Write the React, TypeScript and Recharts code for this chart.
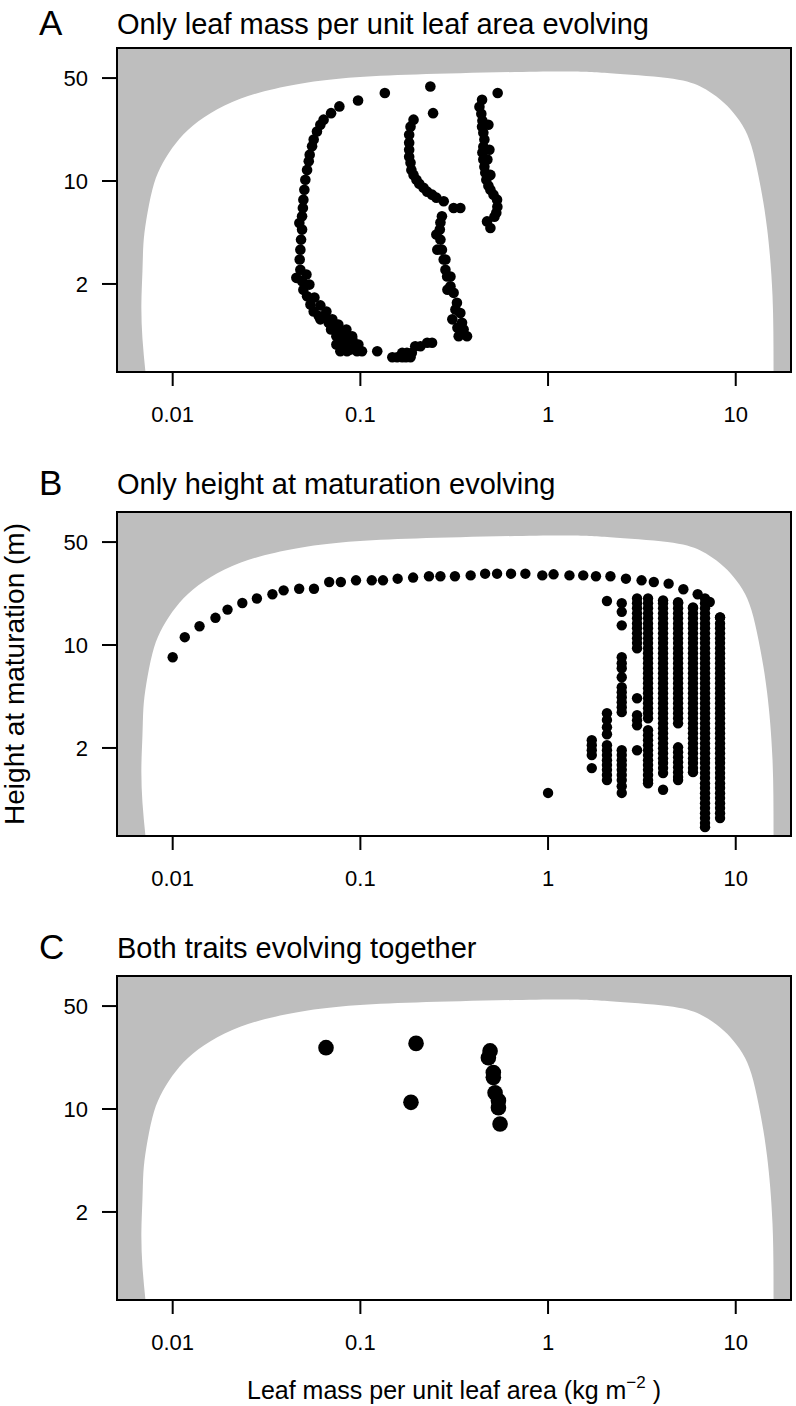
import React from "react";
import { ScatterChart, Scatter, XAxis, YAxis, CartesianGrid } from "recharts";

const FONT = '"Liberation Sans", Arial, Helvetica, sans-serif';
const GREY = "#bebebe";

const X_DOMAIN = [0.00505, 19.7];
const Y_DOMAIN = [0.505, 80];
const X_TICKS = [0.01, 0.1, 1, 10];
const Y_TICKS = [2, 10, 50];

// outline of the white (viable) region, bottom-left round to bottom-right
const regionX = [0.00716, 0.0069, 0.00681, 0.0069, 0.00698, 0.00724, 0.00779, 0.00859, 0.00996, 0.0121, 0.0159, 0.0229, 0.0352, 0.0612, 0.128, 0.341, 1.16, 2.14, 4.32, 6.48, 8.29, 9.71, 11.2, 12.4, 13.5, 14.7, 15.7, 15.9];
const regionY = [0.505, 0.851, 1.45, 2.43, 3.7, 5.47, 8.73, 12.3, 16.8, 22.3, 28.9, 36.2, 42.3, 47.9, 51.8, 54.0, 55.4, 53.9, 50, 43.8, 35.6, 29.1, 22.3, 15.6, 9.44, 4.75, 1.67, 0.505];

// panel A: only leaf mass per area evolving
const lmaLeft = [
  [0.135, 39.6], [0.0972, 35.2], [0.0773, 32.1], [0.0698, 28.9], [0.0637, 26.1], [0.0612, 24.1],
  [0.0587, 21.7], [0.0564, 19.1], [0.0553, 17.2], [0.0537, 15.1], [0.0531, 13.6], [0.052, 11.9],
  [0.0509, 10.2], [0.0503, 8.73], [0.0497, 7.47], [0.0494, 6.56], [0.0489, 5.76], [0.0473, 5.19],
  [0.0489, 4.68], [0.0483, 4.0], [0.0479, 3.42], [0.0475, 2.93], [0.0479, 2.5], [0.0516, 2.32],
  [0.0456, 2.2], [0.0489, 2.09], [0.0535, 1.98], [0.0509, 1.97], [0.0497, 1.83], [0.052, 1.65],
  [0.0569, 1.62], [0.0542, 1.45], [0.0612, 1.43], [0.0564, 1.3], [0.0659, 1.3], [0.06, 1.21],
  [0.0612, 1.15], [0.0709, 1.15], [0.0651, 1.18], [0.0678, 1.09], [0.0763, 1.06], [0.0736, 1.01],
  [0.0698, 0.981], [0.0842, 0.981], [0.0782, 0.931], [0.0745, 0.883], [0.0832, 0.883], [0.0904, 0.883],
  [0.0799, 0.839], [0.0907, 0.839], [0.0832, 0.776], [0.0745, 0.776], [0.0941, 0.776], [0.0976, 0.776],
  [0.0782, 0.699], [0.0849, 0.699], [0.0885, 0.717], [0.096, 0.699], [0.102, 0.699], [0.123, 0.699],
  [0.148, 0.636], [0.157, 0.636], [0.167, 0.636], [0.175, 0.636], [0.185, 0.636], [0.167, 0.681],
  [0.177, 0.681], [0.188, 0.681], [0.196, 0.755], [0.209, 0.755], [0.227, 0.797], [0.241, 0.797],
];
const lmaMiddle = [
  [0.236, 43.8], [0.244, 28.9], [0.192, 26.1], [0.185, 23.4], [0.182, 20.6], [0.182, 18.2],
  [0.182, 16.3], [0.182, 14.6], [0.185, 13.3], [0.187, 11.9], [0.192, 11.0], [0.199, 10.2],
  [0.206, 9.59], [0.217, 9.01], [0.227, 8.47], [0.241, 8.08], [0.254, 7.71], [0.278, 7.28],
  [0.314, 6.56], [0.341, 6.56], [0.272, 5.76], [0.267, 5.22], [0.265, 4.68], [0.254, 4.33],
  [0.267, 4.0], [0.257, 3.42], [0.272, 3.42], [0.278, 2.93], [0.284, 2.93], [0.284, 2.5],
  [0.29, 2.25], [0.302, 2.25], [0.302, 1.93], [0.291, 1.83], [0.314, 1.74], [0.327, 1.49],
  [0.321, 1.34], [0.341, 1.27], [0.309, 1.15], [0.348, 1.09], [0.329, 1.01], [0.355, 0.981],
  [0.334, 0.883], [0.37, 0.883],
];
const lmaRight = [
  [0.539, 39.6], [0.445, 35.6], [0.431, 31.9], [0.441, 28.6], [0.447, 25.7], [0.481, 24.1],
  [0.445, 23.4], [0.452, 21.3], [0.458, 19.1], [0.452, 17.1], [0.487, 16.3], [0.447, 15.6],
  [0.452, 14.0], [0.475, 14.0], [0.458, 12.5], [0.463, 11.4], [0.493, 11.0], [0.469, 10.2],
  [0.481, 9.3], [0.493, 8.73], [0.512, 8.08], [0.535, 7.47], [0.537, 6.7], [0.53, 6.1],
  [0.518, 5.73], [0.473, 5.32], [0.493, 4.8],
];

// panel B: only height evolving
const heightArc = [
  [0.01, 8.26], [0.0116, 11.3], [0.0139, 13.4], [0.0169, 15.3], [0.0196, 17.4], [0.0235, 19.3],
  [0.0281, 20.7], [0.034, 22.1], [0.039, 23.5], [0.0472, 24.1], [0.0566, 24.1], [0.0682, 26.8],
  [0.0787, 26.8], [0.0948, 27.5], [0.115, 27.5], [0.132, 27.5], [0.158, 28.2], [0.191, 28.7],
  [0.232, 29.3], [0.267, 29.3], [0.319, 29.3], [0.387, 29.7], [0.462, 30.5], [0.535, 30.5],
  [0.635, 30.5], [0.757, 30.5], [0.932, 29.7], [1.07, 30.2], [1.3, 29.7], [1.54, 29.7],
  [1.8, 29.3], [2.15, 29.3], [2.6, 28.2], [3.15, 27.5], [3.66, 26.8], [4.39, 26.1],
  [5.26, 23.9], [6.27, 22.1], [7.27, 19.6], [8.25, 15.4],
];
const heightLone = [[1, 0.99]];
const colX = [1.71, 2.06, 2.47, 2.98, 3.41, 4.1, 4.93, 5.92, 6.86, 8.25];
const colY = [
  [2.26, 2.09, 1.93, 1.79, 1.46],
  [19.9, 3.44, 3.1, 2.77, 2.48, 2.09, 1.93, 1.79, 1.65, 1.53, 1.42, 1.31, 1.21],
  [19.2, 16.8, 13.6, 8.26, 7.52, 6.95, 6.04, 5.17, 4.78, 4.42, 4.09, 3.78, 3.5, 1.93, 1.79, 1.65, 1.53, 1.42, 1.31, 1.21, 1.1, 0.99],
  [20.7, 19.2, 17.8, 16.4, 15.2, 14.0, 13.0, 12.0, 11.1, 10.3, 9.5, 4.35, 3.34, 3.08, 2.85, 1.93],
  [20.7, 19.2, 17.8, 16.4, 15.2, 14.0, 13.0, 12.0, 11.1, 10.3, 9.5, 8.79, 8.13, 7.52, 6.95, 6.43, 5.95, 5.5, 5.09, 4.71, 4.35, 4.03, 3.72, 3.44, 3.18, 2.64, 2.44, 2.26, 2.09, 1.93, 1.79, 1.65, 1.53, 1.42, 1.31, 1.21, 1.15],
  [20.1, 19.2, 17.8, 16.4, 15.2, 14.0, 13.0, 12.0, 11.1, 10.3, 9.5, 8.79, 8.13, 7.52, 6.95, 6.43, 5.95, 5.5, 5.09, 4.71, 4.35, 4.03, 3.72, 3.44, 3.18, 2.94, 2.72, 2.52, 2.33, 2.15, 1.99, 1.84, 1.7, 1.58, 1.46, 1.35, 1.04],
  [19.5, 19.2, 17.8, 16.4, 15.2, 14.0, 13.0, 12.0, 11.1, 10.3, 9.5, 8.79, 8.13, 7.52, 6.95, 6.43, 5.95, 5.5, 5.09, 4.71, 4.35, 4.03, 3.72, 3.44, 3.18, 2.94, 2.02, 1.87, 1.73, 1.6, 1.48, 1.37, 1.27, 1.21],
  [18.0, 17.8, 16.4, 15.2, 14.0, 13.0, 12.0, 11.1, 10.3, 9.5, 8.79, 8.13, 7.52, 6.95, 6.43, 5.95, 5.5, 5.09, 4.71, 4.35, 4.03, 3.72, 3.44, 3.18, 2.94, 2.72, 2.52, 2.33, 2.15, 1.99, 1.84, 1.7, 1.58, 1.46, 1.37],
  [20.7, 19.2, 17.8, 16.4, 15.2, 14.0, 13.0, 12.0, 11.1, 10.3, 9.5, 8.79, 8.13, 7.52, 6.95, 6.43, 5.95, 5.5, 5.09, 4.71, 4.35, 4.03, 3.72, 3.44, 3.18, 2.94, 2.72, 2.52, 2.33, 2.15, 1.99, 1.84, 1.7, 1.58, 1.46, 1.35, 1.25, 1.15, 1.07, 0.987, 0.913, 0.844, 0.781, 0.722, 0.668, 0.618, 0.58],
  [15.4, 14.0, 13.0, 12.0, 11.1, 10.3, 9.5, 8.79, 8.13, 7.52, 6.95, 6.43, 5.95, 5.5, 5.09, 4.71, 4.35, 4.03, 3.72, 3.44, 3.18, 2.94, 2.72, 2.52, 2.33, 2.15, 1.99, 1.84, 1.7, 1.58, 1.46, 1.35, 1.25, 1.15, 1.07, 0.987, 0.913, 0.844, 0.781, 0.722, 0.668],
];

// panel C: both traits evolving
const bothDots = [
  [0.0656, 26.1], [0.198, 27.9], [0.186, 11.1], [0.491, 24.8], [0.481, 22.3], [0.511, 17.7],
  [0.511, 16.4], [0.522, 12.9], [0.544, 11.4], [0.544, 10.2], [0.555, 7.92],
];

const toPts = (arr: number[][]) => arr.map(([x, y]) => ({ x, y }));
const region = regionX.map((x, i) => ({ x, y: regionY[i] }));

const PLOT_LEFT = 117;
const PLOT_TOP = 48;
const PLOT_W = 674;
const PLOT_H = 324;
const CHART_H = 432;

const dot = (r: number) => (p: any) => <circle cx={p.cx} cy={p.cy} r={r} fill="#000" />;

function Panel({ top, data, r }: { top: number; data: { x: number; y: number }[]; r: number }) {
  return (
    <div style={{ position: "absolute", left: 0, top, width: 796, height: CHART_H }}>
      <ScatterChart
        width={796}
        height={CHART_H}
        margin={{ top: PLOT_TOP, right: 796 - PLOT_LEFT - PLOT_W, bottom: 0, left: 0 }}
      >
        <CartesianGrid horizontal={false} vertical={false} fill={GREY} />
        <XAxis
          dataKey="x"
          type="number"
          scale="log"
          domain={X_DOMAIN}
          allowDataOverflow
          ticks={X_TICKS}
          interval={0}
          tickFormatter={(v) => String(v)}
          height={CHART_H - PLOT_TOP - PLOT_H}
          axisLine={false}
          stroke="#000"
          tickLine={{ stroke: "#000", strokeWidth: 2 }}
          tickSize={14}
          tickMargin={20}
          tick={{ fill: "#000", fontSize: 22, fontFamily: FONT }}
        />
        <YAxis
          dataKey="y"
          type="number"
          scale="log"
          domain={Y_DOMAIN}
          allowDataOverflow
          ticks={Y_TICKS}
          interval={0}
          width={PLOT_LEFT}
          axisLine={false}
          stroke="#000"
          tickLine={{ stroke: "#000", strokeWidth: 2 }}
          tickSize={15}
          tickMargin={14}
          tick={{ fill: "#000", fontSize: 22, fontFamily: FONT }}
        />
        <Scatter
          data={region}
          shape={() => <g />}
          line={{ fill: "#fff", stroke: "none" }}
          lineJointType="natural"
          isAnimationActive={false}
        />
        <Scatter data={data} shape={dot(r)} isAnimationActive={false} />
      </ScatterChart>
      <div
        style={{
          position: "absolute",
          left: PLOT_LEFT - 1.2,
          top: PLOT_TOP - 1.2,
          width: PLOT_W + 2.4,
          height: PLOT_H + 2.4,
          border: "2.4px solid #000",
          boxSizing: "border-box",
          pointerEvents: "none",
        }}
      />
    </div>
  );
}

export default function App() {
  const dataA = toPts([...lmaLeft, ...lmaMiddle, ...lmaRight]);
  const dataB = [
    ...toPts(heightArc),
    ...toPts(heightLone),
    ...colX.flatMap((x, i) => colY[i].map((y) => ({ x, y }))),
  ];
  const dataC = toPts(bothDots);

  return (
    <div style={{ position: "absolute", left: 0, top: 0, width: 796, height: 1406, background: "#fff", fontFamily: FONT }}>
      <svg width={796} height={1406} style={{ position: "absolute", left: 0, top: 0 }} fontFamily={FONT}>
        <text x={39} y={35} fontSize={35}>A</text>
        <text x={117} y={33.5} fontSize={29}>Only leaf mass per unit leaf area evolving</text>
        <text x={39} y={495} fontSize={35}>B</text>
        <text x={117} y={493.5} fontSize={29}>Only height at maturation evolving</text>
        <text x={39} y={959} fontSize={35}>C</text>
        <text x={117} y={957.5} fontSize={29}>Both traits evolving together</text>
        <text transform="rotate(-90)" x={-674} y={23.5} textAnchor="middle" fontSize={28}>
          Height at maturation (m)
        </text>
        <text x={454} y={1399} textAnchor="middle" fontSize={25}>
          Leaf mass per unit leaf area (kg m<tspan dy={-11} fontSize={17}>−2</tspan>
          <tspan dy={11}> )</tspan>
        </text>
      </svg>
      <Panel top={0} data={dataA} r={5.3} />
      <Panel top={464} data={dataB} r={5.2} />
      <Panel top={928} data={dataC} r={7.8} />
    </div>
  );
}
